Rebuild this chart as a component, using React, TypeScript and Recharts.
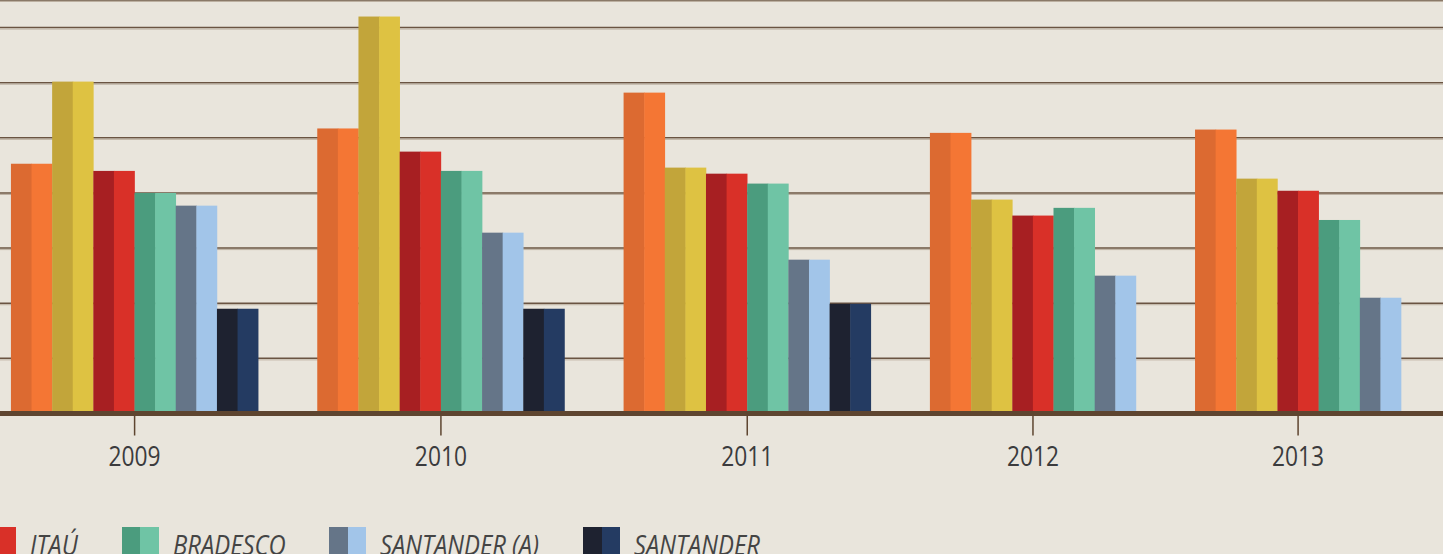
import { BarChart, Bar, XAxis, YAxis, CartesianGrid } from 'recharts';

// anos e séries (em unidades da grade)
const years = ['2009', '2010', '2011', '2012', '2013'];
const laranja = [4.53, 5.17, 5.82, 5.09, 5.15];
const amarelo = [6.02, 7.2, 4.46, 3.88, 4.26];
const itau = [4.4, 4.75, 4.35, 3.59, 4.04];
const bradesco = [4.0, 4.4, 4.17, 3.73, 3.51];
const santanderA = [3.77, 3.28, 2.79, 2.5, 2.1];
const santander = [1.9, 1.9, 1.99, null, null];
const gridTicks = [0, 1, 2, 3, 4, 5, 6, 7];

const series = [
  { key: 'laranja', name: '', values: laranja, dark: '#DC6A31', light: '#F47634' },
  { key: 'amarelo', name: '', values: amarelo, dark: '#C2A53A', light: '#DEC242' },
  { key: 'itau', name: 'ITAÚ', values: itau, dark: '#A71F22', light: '#D93028' },
  { key: 'bradesco', name: 'BRADESCO', values: bradesco, dark: '#4B9C7E', light: '#6FC4A5' },
  { key: 'santanderA', name: 'SANTANDER (A)', values: santanderA, dark: '#657588', light: '#A2C5E9' },
  { key: 'santander', name: 'SANTANDER', values: santander, dark: '#1E2230', light: '#243B62' },
];

const W = 1443;
const H = 554;
const BAR_W = 41.2; // px por barra
const GROUP_GAP = 1.435; // espaço entre anos, em larguras de barra
const FIRST_BAR_PX = 11;

// uma linha por barra; os anos ficam centralizados nas barras existentes
const rows: { pos: number; value: number; series: string }[] = [];
const yearCenters: number[] = [];
let start = 0;
years.forEach((_, i) => {
  const present = series.filter((s) => s.values[i] != null);
  present.forEach((s, j) => rows.push({ pos: start + j + 0.5, value: s.values[i] as number, series: s.key }));
  yearCenters.push(start + present.length / 2);
  start += present.length + GROUP_GAP;
});
const colorOf = Object.fromEntries(series.map((s) => [s.key, s]));

// barra de dois tons, sempre com a largura cheia em torno do centro calculado pelo Recharts
function SplitBar(props: any) {
  const { x, y, width, height } = props;
  const p = props.payload ?? props;
  const c = colorOf[p.series];
  if (!c || height <= 0) return null;
  const cx = x + width / 2;
  const left = cx - BAR_W / 2;
  const half = BAR_W / 2;
  return (
    <g>
      <rect x={left} y={y} width={half + 0.5} height={height} fill={c.dark} />
      <rect x={left + half} y={y} width={half + 0.3} height={height} fill={c.light} />
    </g>
  );
}

function YearTick({ x, y, payload }: any) {
  const idx = yearCenters.findIndex((c) => Math.abs(c - payload.value) < 1e-6);
  return (
    <text
      transform={`translate(${x},${y}) scale(0.86,1)`}
      y={30.2}
      textAnchor="middle"
      fontFamily="'Open Sans', sans-serif"
      fontSize={26.5}
      fill="#3b3b3d"
    >
      {years[idx]}
    </text>
  );
}

function GridLine(props: any) {
  const { x1, x2, y1 } = props;
  return (
    <g key={props.key ?? `g-${y1}`}>
      <line x1={x1} x2={x2} y1={y1} y2={y1} stroke="#6a5442" strokeWidth={1.5} />
      <line x1={x1} x2={x2} y1={y1 + 1.5} y2={y1 + 1.5} stroke="#bcb0a1" strokeWidth={1} />
    </g>
  );
}

const LEGEND_FONT = "italic 28px 'Open Sans'";
const LEGEND_SX = 0.85;
function textWidth(t: string) {
  const ctx = document.createElement('canvas').getContext('2d');
  if (!ctx) return t.length * 16;
  ctx.font = LEGEND_FONT;
  return ctx.measureText(t).width;
}

function Legenda() {
  const items = series.filter((s) => s.name);
  return (
    <div style={{ position: 'absolute', left: -21, top: 527, display: 'flex', alignItems: 'flex-start' }}>
      {items.map((s) => (
        <div key={s.key} style={{ display: 'flex', alignItems: 'flex-start', marginRight: 44 }}>
          <div style={{ display: 'flex', width: 37, height: 40 }}>
            <div style={{ width: 18.5, background: s.dark }} />
            <div style={{ width: 18.5, background: s.light }} />
          </div>
          <div style={{ width: textWidth(s.name) * LEGEND_SX, marginLeft: 14, marginTop: 3, whiteSpace: 'nowrap' }}>
            <span
              style={{
                display: 'inline-block',
                font: LEGEND_FONT,
                lineHeight: '28px',
                color: '#444444',
                transform: `scaleX(${LEGEND_SX})`,
                transformOrigin: 'left top',
              }}
            >
              {s.name}
            </span>
          </div>
        </div>
      ))}
    </div>
  );
}

export default function App() {
  const domainX: [number, number] = [-FIRST_BAR_PX / BAR_W, (W - FIRST_BAR_PX) / BAR_W];
  return (
    <div style={{ position: 'relative', width: W, height: H, overflow: 'hidden', background: '#E9E5DC' }}>
      <style>{`body{margin:0;background:#E9E5DC}`}</style>
      <BarChart
        width={W}
        height={H}
        data={rows}
        barCategoryGap={0}
        barGap={0}
        margin={{ top: 0, right: 0, bottom: 110.5, left: 0 }}
      >
        <CartesianGrid vertical={false} horizontal={(p: any) => <GridLine {...p} />} />
        <YAxis hide domain={[0, 7.5]} ticks={gridTicks} allowDataOverflow />
        <XAxis
          dataKey="pos"
          type="number"
          domain={domainX}
          allowDataOverflow
          ticks={yearCenters}
          interval={0}
          height={30}
          axisLine={{ stroke: '#5E4530', strokeWidth: 5 }}
          tickLine={{ stroke: '#5E4530', strokeWidth: 1.5 }}
          tickSize={22}
          tickMargin={0}
          tick={<YearTick />}
        />
        <Bar dataKey="value" barSize={BAR_W} shape={<SplitBar />} isAnimationActive={false} />
      </BarChart>
      <Legenda />
    </div>
  );
}
